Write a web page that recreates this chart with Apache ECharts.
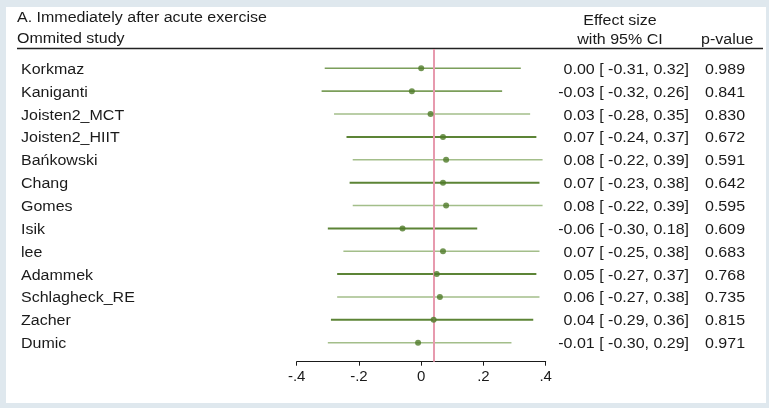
<!DOCTYPE html>
<html><head><meta charset="utf-8">
<script src="https://cdn.jsdelivr.net/npm/echarts@6/dist/echarts.min.js"></script>
<style>
html,body{margin:0;padding:0;background:#dfe8ee;}
#panel{position:absolute;left:6px;top:7px;width:760px;height:396px;background:#fff;}
#c{position:absolute;left:0;top:0;width:769px;height:408px;}
</style>
</head><body><div id="panel"></div><div id="c"></div>
<script>
const studies = ['Korkmaz','Kaniganti','Joisten2_MCT','Joisten2_HIIT','Bańkowski','Chang','Gomes','Isik','lee','Adammek','Schlagheck_RE','Zacher','Dumic'];
const effect = [0.00,-0.03,0.03,0.07,0.08,0.07,0.08,-0.06,0.07,0.05,0.06,0.04,-0.01];
const lower  = [-0.31,-0.32,-0.28,-0.24,-0.22,-0.23,-0.22,-0.30,-0.25,-0.27,-0.27,-0.29,-0.30];
const upper  = [0.32,0.26,0.35,0.37,0.39,0.38,0.39,0.18,0.38,0.37,0.38,0.36,0.29];
const pValues = ['0.989','0.841','0.830','0.672','0.591','0.642','0.595','0.609','0.683','0.768','0.735','0.815','0.971'];
const overall = 0.035;
const tickLabels = {'-0.4':'-.4','-0.2':'-.2','0':'0','0.2':'.2','0.4':'.4'};

const shade = ['mid','mid','light','dark','light','dark','light','dark','light','dark','light','dark','light'];
const shadeColor = {dark:'#5c8436', mid:'#7b9e5a', light:'#a3be8a'};
const shadeWidth = {dark:2, mid:1.6, light:1.6};
const FONT = '"Liberation Sans", Arial, sans-serif';
const FS = 16;
const F = FS + 'px ' + FONT;
const SY = 0.9;
const INK = '#1a1a1a';

function fmt(v){ return v.toFixed(2); }
function txt(x, y, text, align){
  return {type:'text', x:x, y:y, scaleY:SY, style:{text:text, fill:INK, font:F, align:align||'left', verticalAlign:'middle'}};
}

const chart = echarts.init(document.getElementById('c'), null, {renderer:'canvas'});
const rows = studies.map((s,i)=>[i, effect[i], lower[i], upper[i]]);

chart.setOption({
  backgroundColor:'transparent',
  animation:false,
  textStyle:{fontFamily:FONT},
  grid:{left:296.7, right:223.3, top:49, bottom:46.3},
  xAxis:{
    type:'value', min:-0.4, max:0.4, interval:0.2, position:'bottom',
    axisLine:{show:true, onZero:false, lineStyle:{color:INK, width:1}},
    axisTick:{show:true, inside:false, length:4, lineStyle:{color:INK}},
    axisLabel:{margin:8, color:INK, fontSize:15, fontFamily:FONT,
      formatter:v=>tickLabels[String(Math.round(v*10)/10)] ?? String(v)},
    splitLine:{show:false}
  },
  yAxis:{type:'value', min:-0.844, max:12.83, inverse:true, show:false},
  graphic:[
    txt(17, 18, 'A. Immediately after acute exercise'),
    txt(17, 39, 'Ommited study'),
    txt(620, 21, 'Effect size', 'center'),
    txt(620, 40, 'with 95% CI', 'center'),
    txt(701, 40, 'p-value'),
    {type:'line', shape:{x1:17, y1:48.5, x2:763, y2:48.5}, style:{stroke:'#222', lineWidth:1.5}}
  ],
  series:[
    {
      type:'custom',
      data:rows,
      encode:{x:[1,2,3], y:0},
      renderItem:(params, api)=>{
        const i = api.value(0);
        const p1 = api.coord([api.value(2), i]);
        const p2 = api.coord([api.value(3), i]);
        const sh = shade[i];
        const ty = p1[1] + 1.5;
        return {type:'group', children:[
          {type:'line', shape:{x1:p1[0], y1:p1[1], x2:p2[0], y2:p2[1]},
           style:{stroke:shadeColor[sh], lineWidth:shadeWidth[sh]}},
          txt(21, ty, studies[i]),
          txt(689, ty, fmt(effect[i])+' [ '+fmt(lower[i])+', '+fmt(upper[i])+']', 'right'),
          txt(705, ty, pValues[i])
        ]};
      },
      markLine:{
        silent:true, symbol:'none', label:{show:false},
        lineStyle:{color:'#e79aae', width:2, type:'solid'},
        data:[{xAxis:overall}]
      },
      z:2
    },
    {
      type:'scatter',
      data:rows.map(r=>[r[1], r[0]]),
      symbol:'circle', symbolSize:6,
      itemStyle:{color:'#4f7a28'},
      z:5
    }
  ]
});
</script>
</body></html>
